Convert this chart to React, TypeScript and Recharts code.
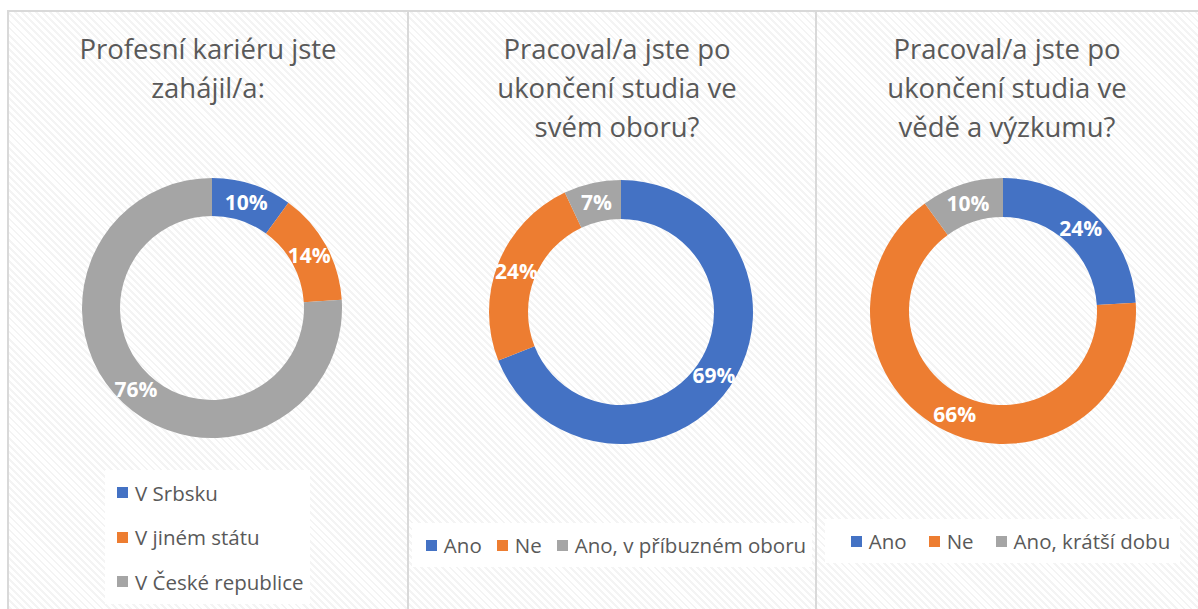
import { PieChart, Pie, Cell, Legend } from 'recharts'

const COLORS = ['#4472C4', '#ED7D31', '#A5A5A5']

const careerLabels = ['V Srbsku', 'V jiném státu', 'V České republice']
const careerValues = [10, 14, 76]

const fieldLabels = ['Ano', 'Ne', 'Ano, v příbuzném oboru']
const fieldValues = [69, 24, 7]

const researchLabels = ['Ano', 'Ne', 'Ano, krátší dobu']
const researchValues = [24, 66, 10]

const titles = [
  ['Profesní kariéru jste', 'zahájil/a:'],
  ['Pracoval/a jste po', 'ukončení studia ve', 'svém oboru?'],
  ['Pracoval/a jste po', 'ukončení studia ve', 'vědě a výzkumu?'],
]

const FONT = '"Open Sans", "Noto Sans", sans-serif'
const TEXT = '#595959'
const RAD = Math.PI / 180

function toRows(labels: string[], values: number[]) {
  return labels.map((name, i) => ({ name, value: values[i] }))
}

function renderLabel(props: any) {
  const { cx, cy, midAngle, innerRadius, outerRadius, value } = props
  const r = (innerRadius + outerRadius) / 2
  const x = cx + r * Math.cos(-midAngle * RAD)
  const y = cy + r * Math.sin(-midAngle * RAD)
  return (
    <text
      x={x}
      y={y}
      fill="#fff"
      textAnchor="middle"
      dominantBaseline="central"
      fontFamily={FONT}
      fontWeight={700}
      fontSize={21}
    >
      {value}%
    </text>
  )
}

// legend drawn from the data order (recharts would sort it by value)
function LegendBox({ labels, vertical, gap, padLeft }: { labels: string[]; vertical?: boolean; gap: number; padLeft: number }) {
  return (
    <div
      style={{
        background: '#fff',
        display: 'flex',
        flexDirection: vertical ? 'column' : 'row',
        justifyContent: 'center',
        alignItems: vertical ? 'flex-start' : 'center',
        gap,
        paddingLeft: padLeft,
        height: '100%',
        boxSizing: 'border-box',
        fontFamily: FONT,
        fontSize: 20.5,
        color: TEXT,
        whiteSpace: 'nowrap',
      }}
    >
      {labels.map((name, i) => (
        <div key={i} style={{ display: 'flex', alignItems: 'center', height: 24 }}>
          <span style={{ width: 11, height: 11, background: COLORS[i], display: 'inline-block', marginRight: 7 }} />
          <span>{name}</span>
        </div>
      ))}
    </div>
  )
}

interface PanelProps {
  left: number
  width: number
  title: string[]
  titleX: number
  labels: string[]
  values: number[]
  cx: number
  cy: number
  inner: number
  outer: number
  legendStyle: React.CSSProperties
  legendGap: number
  legendPad: number
  vertical?: boolean
}

function Panel(p: PanelProps) {
  const rows = toRows(p.labels, p.values)
  return (
    <div style={{ position: 'absolute', left: p.left, top: 0, width: p.width, height: 609 }}>
      <div
        style={{
          position: 'absolute',
          left: p.titleX - 200,
          width: 400,
          top: 29,
          textAlign: 'center',
          fontFamily: FONT,
          fontSize: 27.5,
          lineHeight: '39px',
          color: TEXT,
        }}
      >
        {p.title.map((t, i) => (
          <div key={i}>{t}</div>
        ))}
      </div>
      <PieChart
        width={p.width}
        height={609}
        margin={{ top: 0, right: 0, bottom: 0, left: 0 }}
        style={{ position: 'absolute', left: 0, top: 0 }}
      >
        <Pie
          data={rows}
          dataKey="value"
          nameKey="name"
          cx={p.cx}
          cy={p.cy}
          innerRadius={p.inner}
          outerRadius={p.outer}
          startAngle={90}
          endAngle={-270}
          stroke="none"
          label={renderLabel}
          labelLine={false}
          isAnimationActive={false}
        >
          {rows.map((_, i) => (
            <Cell key={i} fill={COLORS[i]} />
          ))}
        </Pie>
        <Legend
          content={() => (
            <LegendBox labels={p.labels} vertical={p.vertical} gap={p.legendGap} padLeft={p.legendPad} />
          )}
          wrapperStyle={{ position: 'absolute', ...p.legendStyle }}
        />
      </PieChart>
    </div>
  )
}

export default function App() {
  return (
    <div
      style={{
        position: 'absolute',
        left: 0,
        top: 0,
        width: 1198,
        height: 609,
        overflow: 'hidden',
        background: '#fff',
      }}
    >
      <div
        style={{
          position: 'absolute',
          left: 7,
          top: 10,
          width: 1300,
          height: 700,
          border: '2px solid #d9d9d9',
          background: 'repeating-linear-gradient(45deg, #ffffff 0px, #ffffff 3px, #f4f4f4 3px, #f4f4f4 5px)',
        }}
      />
      <div style={{ position: 'absolute', left: 407, top: 10, width: 2, height: 620, background: '#d9d9d9' }} />
      <div style={{ position: 'absolute', left: 815, top: 10, width: 2, height: 620, background: '#d9d9d9' }} />

      <Panel
        left={0}
        width={407}
        title={titles[0]}
        titleX={208}
        labels={careerLabels}
        values={careerValues}
        cx={212}
        cy={308}
        inner={92}
        outer={130}
        vertical
        legendGap={20.5}
        legendPad={12}
        legendStyle={{ left: 105, top: 470, width: 205, height: 134 }}
      />
      <Panel
        left={409}
        width={406}
        title={titles[1]}
        titleX={208}
        labels={fieldLabels}
        values={fieldValues}
        cx={212}
        cy={312}
        inner={93}
        outer={132}
        legendGap={15}
        legendPad={8}
        legendStyle={{ left: 3, top: 523, width: 400, height: 44 }}
      />
      <Panel
        left={817}
        width={381}
        title={titles[2]}
        titleX={190}
        labels={researchLabels}
        values={researchValues}
        cx={186}
        cy={311}
        inner={94}
        outer={133}
        legendGap={22}
        legendPad={16}
        legendStyle={{ left: 8, top: 519, width: 355, height: 44 }}
      />
    </div>
  )
}
